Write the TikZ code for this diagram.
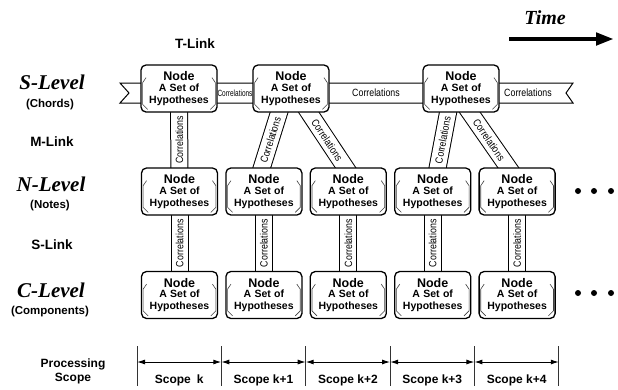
\documentclass[tikz,border=0pt]{standalone}
\usepackage{fontspec}
\usepackage{graphicx}
\setmainfont{Liberation Sans}
\newfontfamily\tmsfont{Liberation Serif}
\usetikzlibrary{calc,arrows.meta}
\pgfdeclarelayer{background}
\pgfsetlayers{background,main}
\newcommand\corrtxt{\scalebox{0.84}[1]{Correlations}}
\newcommand\hyptext{\fontsize{12.5}{13}\selectfont Node\\[-1pt]\fontsize{10.5}{11.5}\selectfont A Set of\\Hypotheses}
\tikzset{
  hyp/.style={draw, line width=1.3pt, rounded corners=5pt, fill=white,
    minimum width=76pt, minimum height=47pt, inner sep=0pt, align=center,
    text width=74pt, font=\bfseries},
  brk/.style={line width=0.6pt, black!75},
  band/.style={double=white, double distance=16pt, line width=1pt,
    shorten <=-8pt, shorten >=-8pt},
  corr/.style={inner sep=0pt, font=\fontsize{10.5}{12}\selectfont},
  lvl/.style={font=\tmsfont\bfseries\itshape\fontsize{21}{22}\selectfont, inner sep=0pt},
  sub/.style={font=\bfseries\fontsize{11.5}{13}\selectfont, inner sep=0pt},
  lnk/.style={font=\bfseries\fontsize{13.5}{15}\selectfont, inner sep=0pt},
  scp/.style={font=\bfseries\fontsize{12}{14}\selectfont, inner sep=0pt},
  tick/.style={line width=0.8pt, black!80},
  dot/.style={circle, fill=black, inner sep=0pt, minimum size=6pt},
}
\begin{document}
\begin{tikzpicture}[x=1pt, y=-1pt]
\useasboundingbox (0,0) rectangle (618,389);

% S-level nodes
\node[hyp] (s1) at (179,88.5) {\hyptext};
\node[hyp] (s2) at (291,88.5) {\hyptext};
\node[hyp] (s3) at (461,88.5) {\hyptext};
% N-level and C-level nodes
\foreach \i/\x in {1/179.5,2/263.9,3/348.3,4/432.7,5/517.1}{
  \node[hyp] (n\i) at (\x,191.5) {\hyptext};
  \node[hyp] (c\i) at (\x,295) {\hyptext};
}
% inner brackets
\foreach \m in {s1,s2,s3,n1,n2,n3,n4,n5,c1,c2,c3,c4,c5}{
  \draw[brk] ($(\m.north west)+(5.7,13.3)$) -- ++(-3.4,5) -- ++(0,21.7) -- ++(5,5);
  \draw[brk] ($(\m.north east)+(-5.7,13.3)$) -- ++(3.4,5) -- ++(0,21.7) -- ++(-5,5);
}

\begin{pgfonlayer}{background}
  % S-level ribbon
  \coordinate (rl) at (120,83);
  \draw[line width=1pt, fill=white] (rl) -- (573,83) -- (566,93) -- (573,103)
     -- (120,103) -- (129,93) -- cycle;
  \node[inner sep=0pt, font=\fontsize{9}{10}\selectfont] (r1) at (235,93) {\scalebox{0.72}[1]{Correlations}};
  \node[corr] (r2) at (376,93) {\corrtxt};
  \node[corr] (r3) at (528,93) {\corrtxt};
  % S -> N bands
  \draw[band] (s1) -- (n1) node[corr, midway, rotate=90] {\corrtxt};
  \draw[band] ([xshift=-12pt]s2.south) -- ([xshift=-2pt]n2.north) node[corr, midway, sloped] {\corrtxt};
  \draw[band] ([xshift=18pt]s2.south) -- ([xshift=-3pt]n3.north) node[corr, midway, sloped] {\corrtxt};
  \draw[band] ([xshift=-13pt]s3.south) -- ([xshift=5pt]n4.north) node[corr, midway, sloped] {\corrtxt};
  \draw[band] ([xshift=9pt]s3.south) -- ([xshift=-9pt]n5.north) node[corr, midway, sloped] {\corrtxt};
  % N -> C bands
  \foreach \i in {1,...,5}{
    \draw[band] (n\i) -- (c\i) node[corr, midway, rotate=90] {\corrtxt};
  }
\end{pgfonlayer}

% dots
\foreach \x [count=\k] in {578,594,611}{
  \node[dot] (dn\k) at (\x,191) {};
  \node[dot] (dc\k) at (\x,293) {};
}

% left labels
\node[lvl] (ls) at (52,82) {S-Level};
\node[sub] (lsc) at (50,105) {(Chords)};
\node[lnk] (lm) at (52,142) {M-Link};
\node[lvl] (ln) at (51,184) {N-Level};
\node[sub] (lnn) at (50,206) {(Notes)};
\node[lnk] (lsl) at (52,245) {S-Link};
\node[lvl] (lc) at (51,290) {C-Level};
\node[sub] (lcc) at (50,312) {(Components)};
\node[lnk] (lt) at (195,44) {T-Link};

% time arrow
\node[font=\tmsfont\bfseries\itshape\fontsize{20}{21}\selectfont, inner sep=0pt] (time) at (545,18) {Time};
\coordinate (ta) at (509,39);
\coordinate (tb) at (614,39);
\draw[line width=4.5pt, -{Triangle[length=18pt,width=12pt]}] (ta) -- (tb);

% processing scope
\node[scp, align=center] (ps) at (73,371) {Processing\\Scope};
\foreach \i/\x in {0/137,1/221.3,2/305.7,3/390.1,4/474.4,5/558.8}{
  \coordinate (kt\i) at (\x,346);
  \coordinate (kb\i) at (\x,386);
  \coordinate (km\i) at (\x,362);
  \draw[tick] (kt\i) -- (kb\i);
}
\foreach \a/\b in {0/1,1/2,2/3,3/4,4/5}{
  \draw[line width=1pt, {Latex[length=8pt,width=5pt]}-{Latex[length=8pt,width=5pt]}] (km\a) -- (km\b);
}
\node[scp] (sk0) at (179.2,380) {Scope\enspace k};
\node[scp] (sk1) at (263.5,380) {Scope k+1};
\node[scp] (sk2) at (347.9,380) {Scope k+2};
\node[scp] (sk3) at (432.3,380) {Scope k+3};
\node[scp] (sk4) at (516.6,380) {Scope k+4};
\end{tikzpicture}
\end{document}
